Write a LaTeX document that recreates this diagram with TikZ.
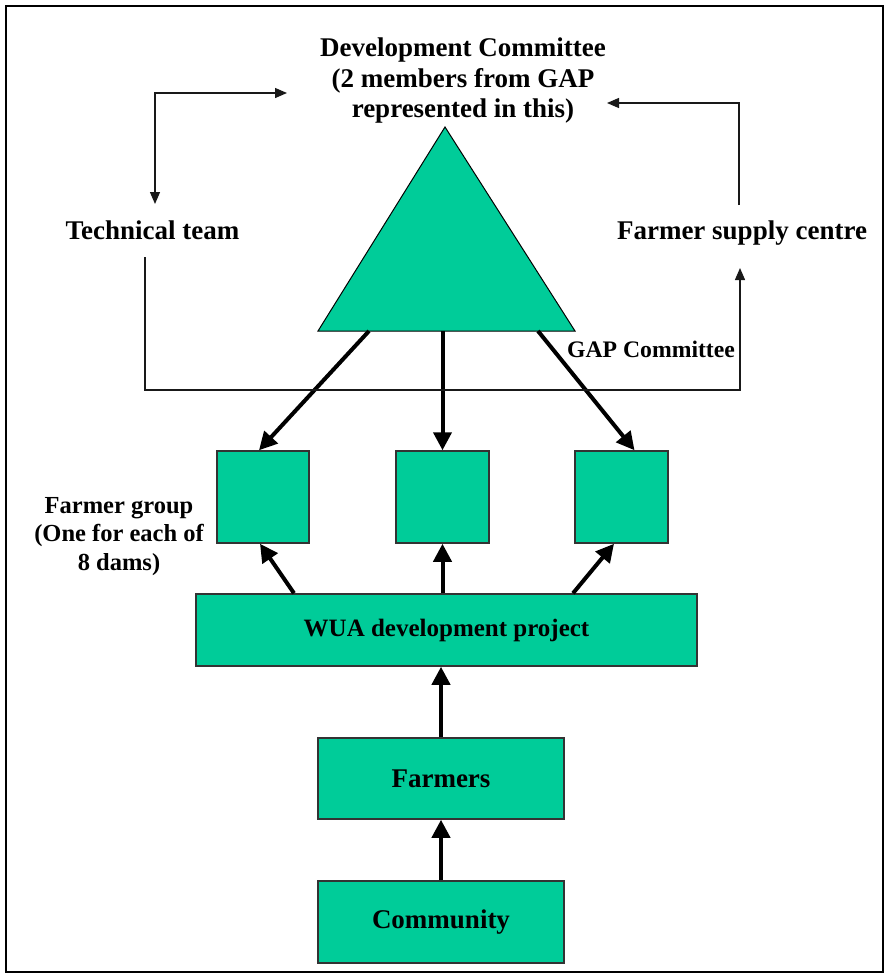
\documentclass[tikz,border=0pt]{standalone}
\usepackage{fontspec}
\setmainfont{Liberation Serif}
\usetikzlibrary{arrows.meta}
\definecolor{tealfill}{RGB}{0,204,153}
\begin{document}
\begin{tikzpicture}[x=1pt,y=-1pt,
  box/.style={draw=black!80, line width=1.5pt, fill=tealfill, inner sep=0pt,
    font=\bfseries\fontsize{27}{31}\selectfont},
  bigarrow/.style={line width=4pt, -{Triangle[length=18pt,width=18pt]}},
  thinline/.style={line width=1.3pt, draw=black!90},
  thinarrow/.style={thinline, -{Triangle[length=12pt,width=10pt]}},
  lbl/.style={inner sep=0pt, align=center, font=\bfseries\fontsize{27}{30.5}\selectfont},
  smalllbl/.style={inner sep=0pt, align=center, font=\bfseries\fontsize{23.7}{28.5}\selectfont},
]
\useasboundingbox (0,0) rectangle (887,975);
\draw[line width=2pt] (6,6) rectangle (883,972);

% triangle (GAP Committee)
\coordinate (tA) at (445,127);
\coordinate (tL) at (318,331);
\coordinate (tR) at (575,331);
\draw[fill=tealfill, line width=1pt] (tA) -- (tR) -- (tL) -- cycle;
\coordinate (b1) at (369,331);
\coordinate (b3) at (538,331);

% labels
\node[lbl, anchor=north] (dc) at (463,37.7) {Development Committee\\(2 members from GAP\\represented in this)};
\node[lbl, anchor=base] (tt) at (152.5,239) {Technical team};
\node[lbl, anchor=base] (fs) at (742,239) {Farmer supply centre};
\node[smalllbl, anchor=base] (gap) at (651,357) {GAP Committee};
\node[smalllbl, anchor=north, font=\bfseries\fontsize{24.5}{28.5}\selectfont] (fg) at (119,496.8) {Farmer group\\(One for each of\\8 dams)};

% boxes
\node[box, minimum width=92pt, minimum height=92pt] (g1) at (263,497) {};
\node[box, minimum width=93pt, minimum height=92pt] (g2) at (442.5,497) {};
\node[box, minimum width=93pt, minimum height=92pt] (g3) at (621.5,497) {};
\node[box, minimum width=501pt, minimum height=72pt, font=\bfseries\fontsize{25}{29}\selectfont] (wua) at (446.5,630) {WUA development project};
\node[box, minimum width=246pt, minimum height=81pt] (farmers) at (441,778.5) {Farmers};
\node[box, minimum width=246pt, minimum height=82pt] (community) at (441,922) {Community};

% thick arrows
\draw[bigarrow] (b1) -- ([xshift=-4pt]g1.north);
\draw[bigarrow] (g2.north |- tL) -- (g2.north);
\draw[bigarrow] (b3) -- ([xshift=13pt]g3.north);
\draw[bigarrow] ([xshift=-152.5pt]wua.north) -- ([xshift=-3pt]g1.south);
\draw[bigarrow] (g2.south |- wua.north) -- (g2.south);
\draw[bigarrow] ([xshift=126.5pt]wua.north) -- ([xshift=-7.5pt]g3.south);
\draw[bigarrow] (farmers.north) -- (farmers.north |- wua.south);
\draw[bigarrow] (community.north) -- (farmers.south);

% thin connectors
\coordinate (ttTop) at (155,204);
\coordinate (dcLeft) at (287,93);
\draw[thinline, {Triangle[length=12pt,width=10pt]}-{Triangle[length=12pt,width=10pt]}] (ttTop) |- (dcLeft);
\coordinate (fsTop) at (739,205);
\coordinate (dcRight) at (607,103);
\draw[thinarrow] (fsTop) |- (dcRight);
\coordinate (ttBot) at (145,257);
\coordinate (fsBot) at (740,268);
\draw[thinarrow] (ttBot) -- (145,390) -| (fsBot);
\end{tikzpicture}
\end{document}
